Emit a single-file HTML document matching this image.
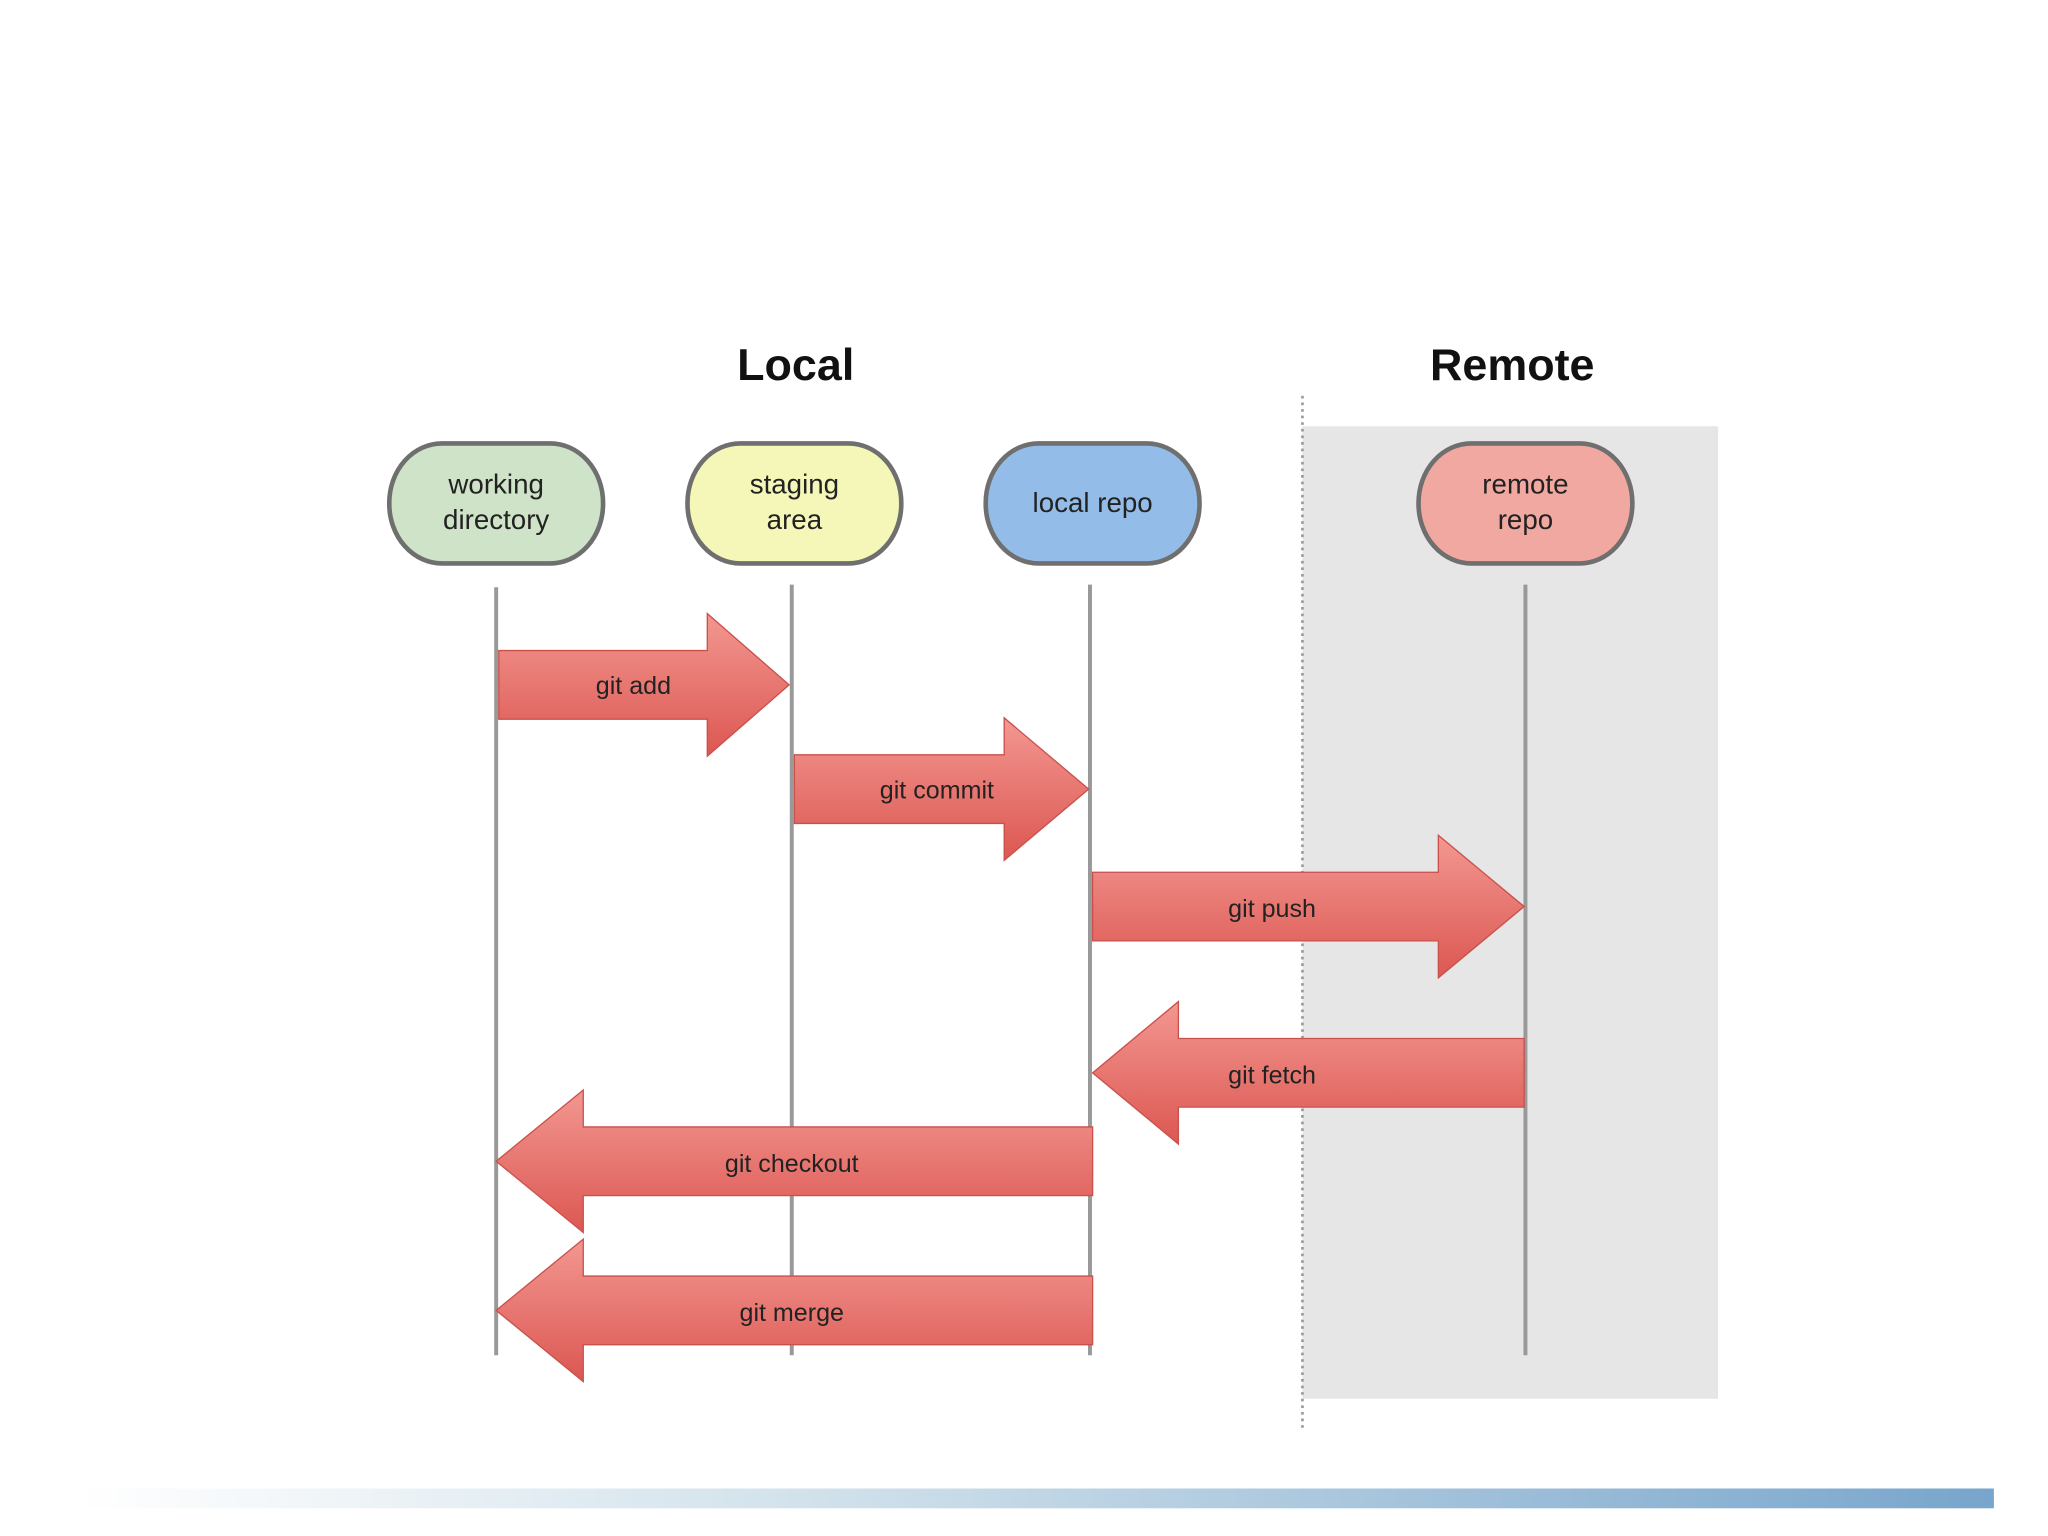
<!DOCTYPE html>
<html><head><meta charset="utf-8"><style>html,body{margin:0;padding:0;background:#fff}svg{display:block}</style></head>
<body>
<svg width="2048" height="1536" viewBox="0 0 1552 1164" xmlns="http://www.w3.org/2000/svg" font-family="Liberation Sans, sans-serif">
<defs>
<linearGradient id="ar" x1="0" y1="0" x2="0" y2="1"><stop offset="0" stop-color="#f39791"/><stop offset="1" stop-color="#dc5752"/></linearGradient>
<linearGradient id="bar" x1="0" y1="0" x2="1" y2="0"><stop offset="0" stop-color="#fff"/><stop offset="0.4" stop-color="#cfe0ea"/><stop offset="1" stop-color="#78a5cc"/></linearGradient>
</defs>
<rect width="1552" height="1164" fill="#fff"/>
<rect x="987" y="323" width="315" height="737" fill="#e6e6e6"/>
<line x1="987" y1="300" x2="987" y2="1082" stroke="#999" stroke-width="2" stroke-dasharray="2,3"/>
<text x="603" y="288" font-size="34" font-weight="bold" text-anchor="middle" fill="#111">Local</text>
<text x="1146" y="288" font-size="34" font-weight="bold" text-anchor="middle" fill="#111">Remote</text>
<g stroke="#999" stroke-width="3">
<line x1="376" y1="445" x2="376" y2="1027"/><line x1="600" y1="443" x2="600" y2="1027"/>
<line x1="826" y1="443" x2="826" y2="1027"/><line x1="1156" y1="443" x2="1156" y2="1027"/>
</g>
<g stroke="#6f6f6f" stroke-width="3.5">
<rect x="295" y="336" width="162" height="91" rx="40" ry="45" fill="#cfe3c8"/>
<rect x="521" y="336" width="162" height="91" rx="40" ry="45" fill="#f5f7b8"/>
<rect x="747" y="336" width="162" height="91" rx="40" ry="45" fill="#93bde8"/>
<rect x="1075" y="336" width="162" height="91" rx="40" ry="45" fill="#f0a8a0"/>
</g>
<g font-size="21" text-anchor="middle" fill="#222">
<text x="376" y="374">working</text><text x="376" y="401">directory</text>
<text x="602" y="374">staging</text><text x="602" y="401">area</text>
<text x="828" y="388">local repo</text>
<text x="1156" y="374">remote</text><text x="1156" y="401">repo</text>
</g>
<g fill="url(#ar)" stroke="#c9504b" stroke-width="1">
<polygon points="378,493 536,493 536,465 598,519 536,573 536,545 378,545"/>
<polygon points="602,572 761,572 761,544 825,598 761,652 761,624 602,624"/>
<polygon points="828,661 1090,661 1090,633 1155,687 1090,741 1090,713 828,713"/>
<polygon points="1155,787 893,787 893,759 828,813 893,867 893,839 1155,839"/>
<polygon points="828,854 442,854 442,826 376,880 442,934 442,906 828,906"/>
<polygon points="828,967 442,967 442,939 376,993 442,1047 442,1019 828,1019"/>
</g>
<g font-size="19" text-anchor="middle" fill="#222">
<text x="480" y="526">git add</text>
<text x="710" y="605">git commit</text>
<text x="964" y="695">git push</text>
<text x="964" y="821">git fetch</text>
<text x="600" y="888">git checkout</text>
<text x="600" y="1001">git merge</text>
</g>
<rect x="60" y="1128" width="1451" height="15" fill="url(#bar)"/>
</svg>
</body></html>
